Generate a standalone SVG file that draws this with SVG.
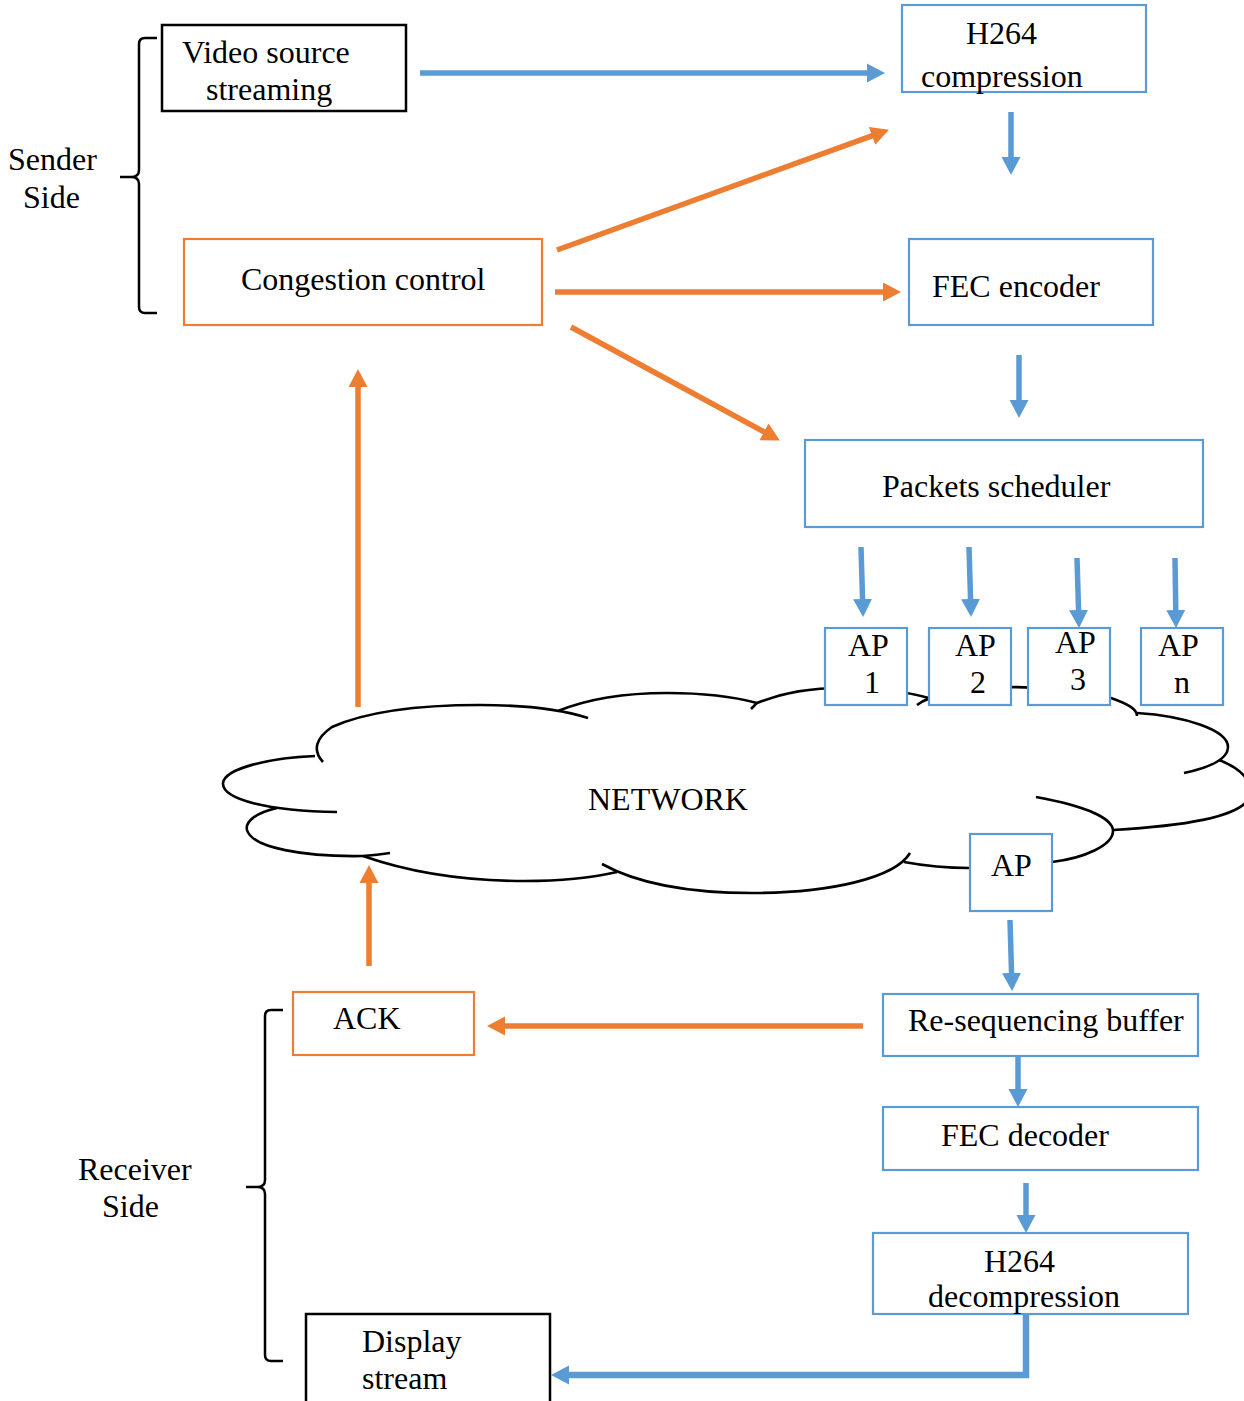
<svg xmlns="http://www.w3.org/2000/svg" width="1244" height="1401" viewBox="0 0 1244 1401">
  <style>
    text { font-family: "Liberation Serif", "Times New Roman", serif; font-size: 32px; fill: #000; }
    .box { fill: #fff; stroke-width: 2.2; }
    .blk { stroke: #000; stroke-width: 2.5; }
    .blu { stroke: #5B9BD5; }
    .org { stroke: #ED7D31; }
    .cloud { fill: none; stroke: #000; stroke-width: 2.6; stroke-linecap: butt; }
    .brace { fill: none; stroke: #000; stroke-width: 2.5; }
    .cb { fill: none; stroke: #5B9BD5; stroke-width: 5.5; marker-end: url(#ahB); }
    .co { fill: none; stroke: #ED7D31; stroke-width: 5.5; marker-end: url(#ahO); }
  </style>
  <defs>
    <marker id="ahB" viewBox="0 -10 18 20" refX="2" refY="0" markerWidth="18" markerHeight="20" markerUnits="userSpaceOnUse" orient="auto">
      <path d="M0,-9.5 L18,0 L0,9.5 z" fill="#5B9BD5"/>
    </marker>
    <marker id="ahO" viewBox="0 -10 18 20" refX="2" refY="0" markerWidth="18" markerHeight="20" markerUnits="userSpaceOnUse" orient="auto">
      <path d="M0,-9.5 L18,0 L0,9.5 z" fill="#ED7D31"/>
    </marker>
  </defs>
  <rect width="1244" height="1401" fill="#fff"/>

  <!-- network cloud outline, drawn as overlapping lobes -->
  <g id="cloud">
    <path class="cloud" d="M323,762 C312,750 316,738 332,727 C370,710 430,705 480,705 C525,705 560,709 588,718"/>
    <path class="cloud" d="M558,711 C590,698 630,693 667,693 C705,693 735,697 757,703 L751,709"/>
    <path class="cloud" d="M757,703 C785,692 810,688 845,688 C875,688 900,690 929,698"/>
    <path class="cloud" d="M917,705 C930,695 960,688 1000,687 C1040,687 1090,689 1111,698 C1128,704 1137,709 1137,716"/>
    <path class="cloud" d="M1137,713 C1185,716 1228,730 1228,747 C1228,758 1212,767 1184,773"/>
    <path class="cloud" d="M1219,760 C1240,768 1255,782 1250,797 C1240,818 1180,826 1113,830"/>
    <path class="cloud" d="M1036,797 C1085,806 1113,818 1113,831 C1113,845 1085,858 1052,862 C1030,866 1000,868 970,868 C945,868 920,865 904,862"/>
    <path class="cloud" d="M910,853 C895,878 830,893 752,893 C690,893 640,885 602,864"/>
    <path class="cloud" d="M363,856 C420,876 480,881 525,881 C565,881 595,877 617,872"/>
    <path class="cloud" d="M277,808 C255,813 245,822 247,830 C252,848 305,857 363,856 C375,855 383,854 390,853"/>
    <path class="cloud" d="M315,756 C270,758 225,768 223,783 C222,800 270,811 337,812"/>
    <text x="588" y="810">NETWORK</text>
  </g>

  <!-- side braces and their labels -->
  <g id="sender-side">
    <path class="brace" d="M157,38 L145,38 Q139,38 139,44 L139,170 Q139,177 131,177 L120,177 M131,177 Q139,177 139,184 L139,307 Q139,313 145,313 L157,313"/>
    <text x="8" y="170">Sender</text>
    <text x="23" y="208">Side</text>
  </g>
  <g id="receiver-side">
    <path class="brace" d="M283,1010 L271,1010 Q265,1010 265,1016 L265,1180 Q265,1187 257,1187 L246,1187 M257,1187 Q265,1187 265,1194 L265,1355 Q265,1361 271,1361 L283,1361"/>
    <text x="78" y="1180">Receiver</text>
    <text x="102" y="1217">Side</text>
  </g>

  <!-- connectors -->
  <g id="connectors">
    <path class="cb" d="M420,73 L869,73"/>
    <path class="cb" d="M1011,112 L1011,159"/>
    <path class="cb" d="M1019,355 L1019,402"/>
    <path class="cb" d="M861,547 L862.6,601"/>
    <path class="cb" d="M969,547 L970.6,601"/>
    <path class="cb" d="M1077,558 L1078.6,612"/>
    <path class="cb" d="M1175,558 L1175.8,612"/>
    <path class="cb" d="M1010,920 L1011.6,975"/>
    <path class="cb" d="M1018,1057 L1018,1091"/>
    <path class="cb" d="M1026,1183 L1026,1217"/>
    <path class="cb" style="stroke-width:6.5" d="M1026,1314 L1026,1375 L567,1375"/>

    <path class="co" d="M557,250 L873.9,135.1"/>
    <path class="co" d="M555,292 L885,292"/>
    <path class="co" d="M571,327 L765.8,432.8"/>
    <path class="co" d="M358,707 L358,385"/>
    <path class="co" d="M369,966 L369,881"/>
    <path class="co" d="M863,1026 L503,1026"/>
  </g>

  <!-- sender nodes -->
  <g id="video-source">
    <rect class="box blk" x="162" y="25" width="244" height="86"/>
    <text x="182" y="63">Video source</text>
    <text x="206" y="100">streaming</text>
  </g>
  <g id="h264-compression">
    <rect class="box blu" x="902" y="5" width="244" height="87"/>
    <text x="966" y="44">H264</text>
    <text x="921" y="87">compression</text>
  </g>
  <g id="congestion-control">
    <rect class="box org" x="184" y="239" width="358" height="86"/>
    <text x="241" y="290">Congestion control</text>
  </g>
  <g id="fec-encoder">
    <rect class="box blu" x="909" y="239" width="244" height="86"/>
    <text x="932" y="297">FEC encoder</text>
  </g>
  <g id="packets-scheduler">
    <rect class="box blu" x="805" y="440" width="398" height="87"/>
    <text x="882" y="497">Packets scheduler</text>
  </g>

  <!-- access points -->
  <g id="ap1">
    <rect class="box blu" x="825" y="628" width="82" height="77"/>
    <text x="848" y="656">AP</text>
    <text x="864" y="693">1</text>
  </g>
  <g id="ap2">
    <rect class="box blu" x="929" y="628" width="82" height="77"/>
    <text x="955" y="656">AP</text>
    <text x="970" y="693">2</text>
  </g>
  <g id="ap3">
    <rect class="box blu" x="1028" y="628" width="82" height="77"/>
    <text x="1055" y="653">AP</text>
    <text x="1070" y="690">3</text>
  </g>
  <g id="apn">
    <rect class="box blu" x="1141" y="628" width="82" height="77"/>
    <text x="1158" y="656">AP</text>
    <text x="1174" y="693">n</text>
  </g>
  <g id="ap-receiver">
    <rect class="box blu" x="970" y="834" width="82" height="77"/>
    <text x="991" y="876">AP</text>
  </g>

  <!-- receiver nodes -->
  <g id="ack">
    <rect class="box org" x="293" y="992" width="181" height="63"/>
    <text x="333" y="1029">ACK</text>
  </g>
  <g id="resequencing-buffer">
    <rect class="box blu" x="883" y="994" width="315" height="62"/>
    <text x="908" y="1031">Re-sequencing buffer</text>
  </g>
  <g id="fec-decoder">
    <rect class="box blu" x="883" y="1107" width="315" height="63"/>
    <text x="941" y="1146">FEC decoder</text>
  </g>
  <g id="h264-decompression">
    <rect class="box blu" x="873" y="1233" width="315" height="81"/>
    <text x="984" y="1272">H264</text>
    <text x="928" y="1307">decompression</text>
  </g>
  <g id="display-stream">
    <rect class="box blk" x="306" y="1314" width="244" height="92"/>
    <text x="362" y="1352">Display</text>
    <text x="362" y="1389">stream</text>
  </g>
</svg>
